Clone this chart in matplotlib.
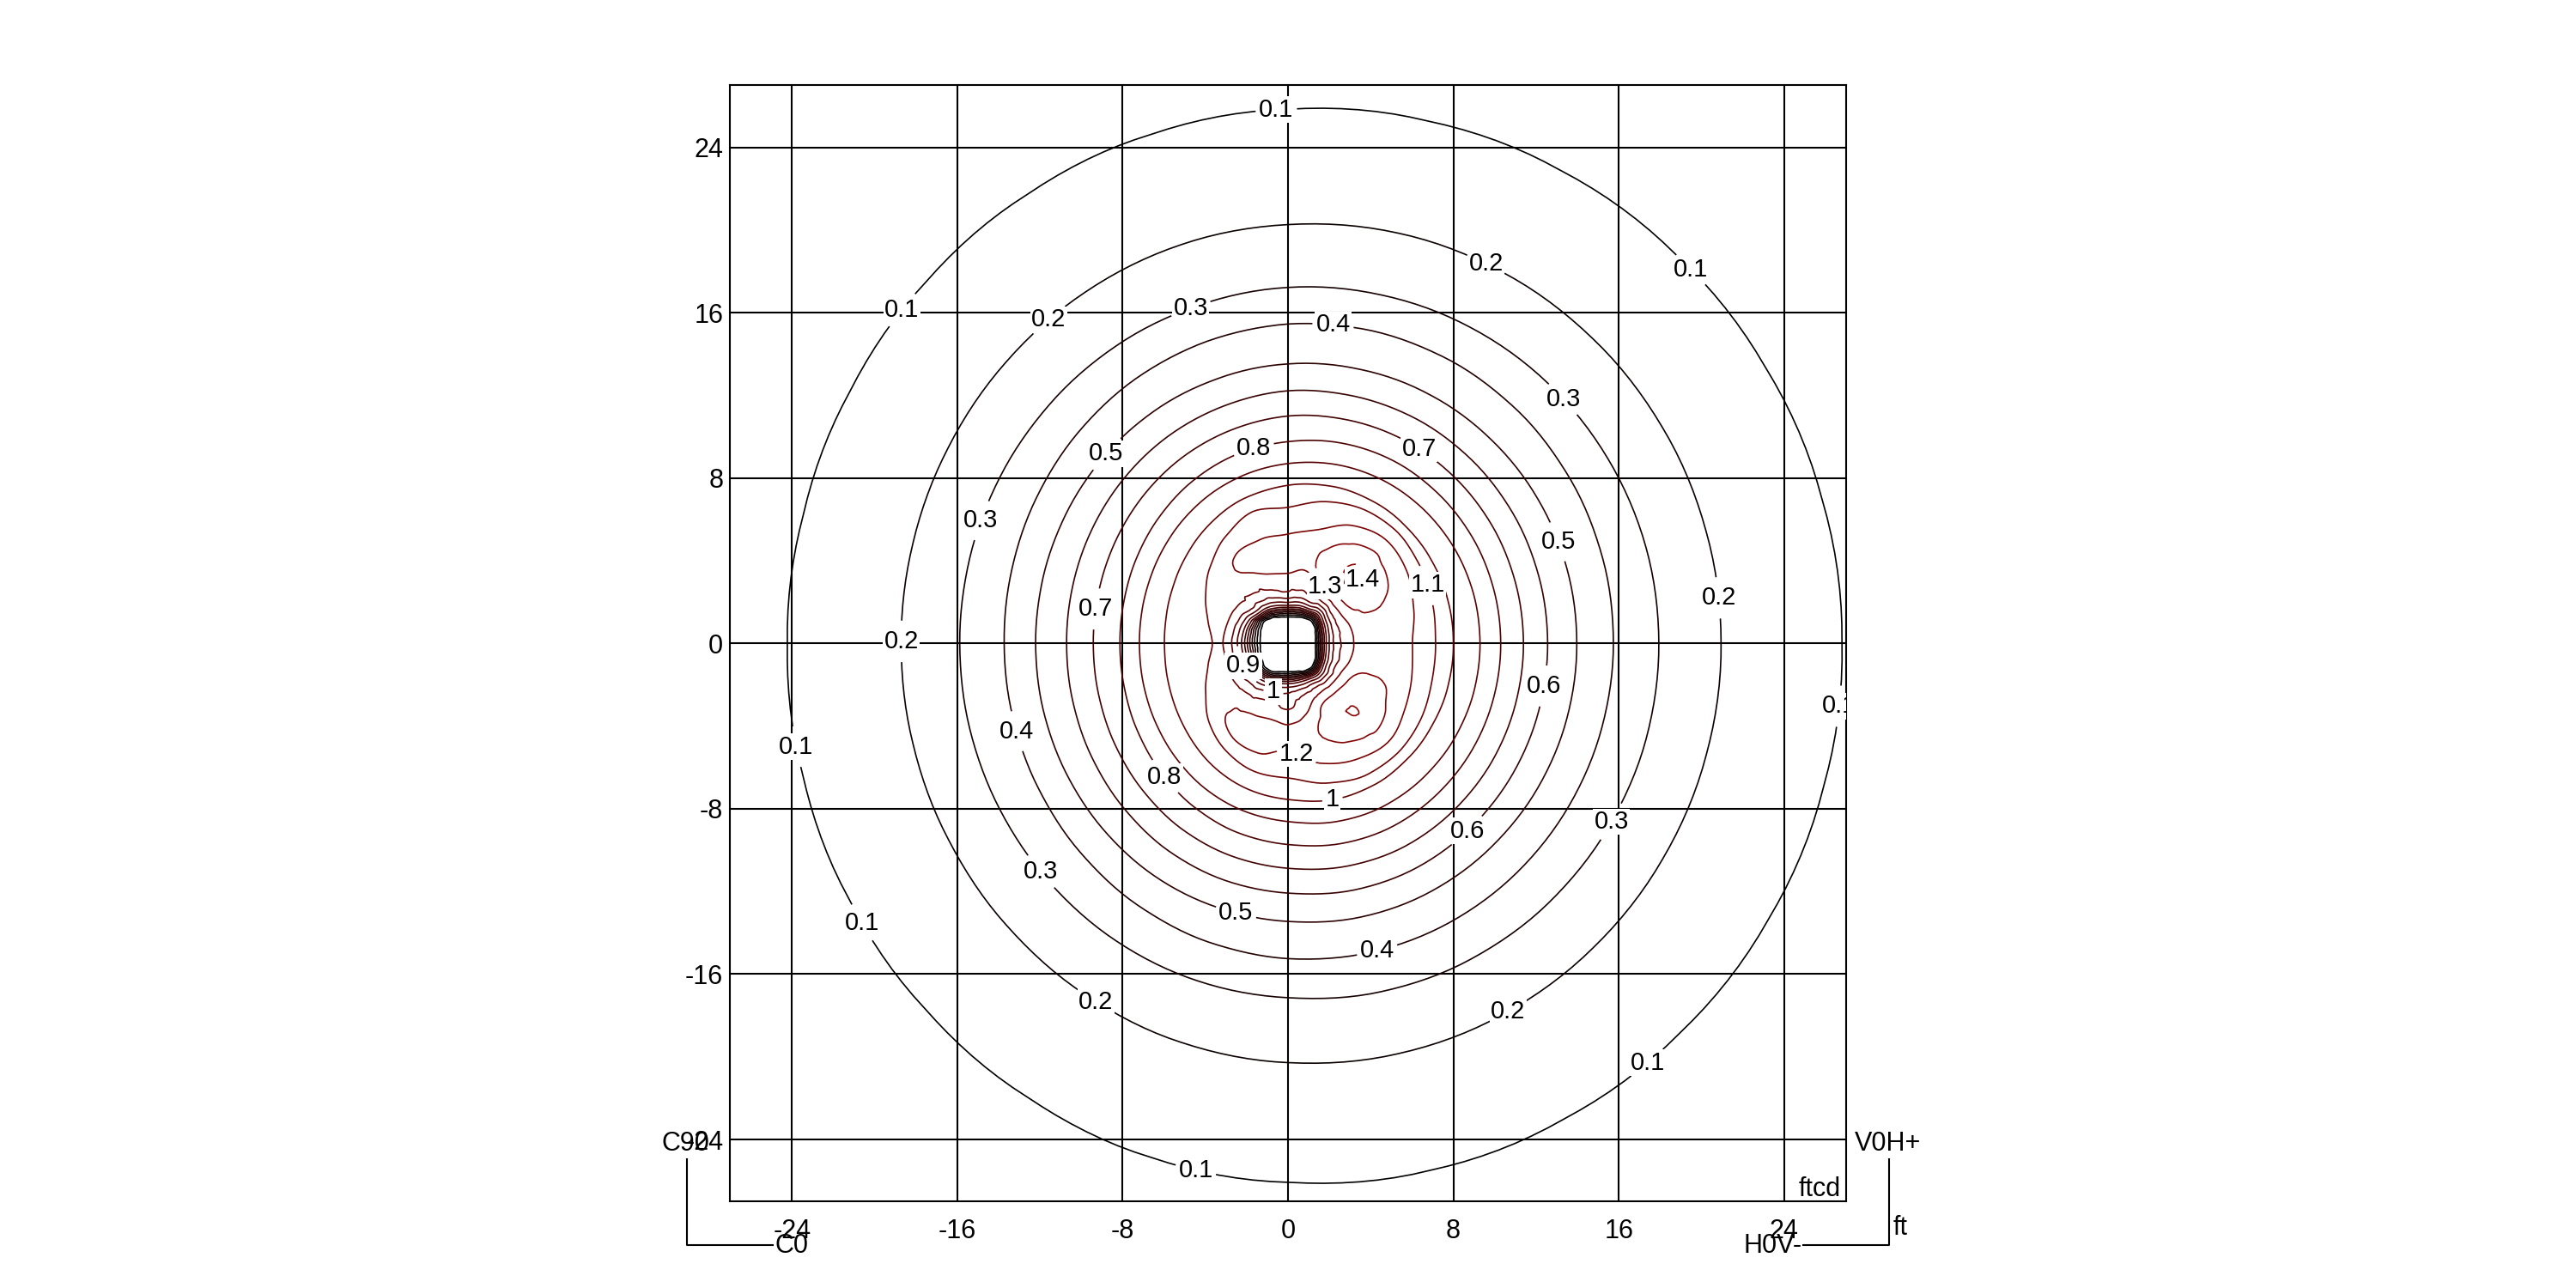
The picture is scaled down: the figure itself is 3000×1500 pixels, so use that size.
import numpy as np
import matplotlib
matplotlib.use("Agg")
import matplotlib.pyplot as plt
import matplotlib.tri as mtri
from matplotlib.lines import Line2D

plt.rcParams['font.family'] = ['Liberation Sans', 'DejaVu Sans']
plt.rcParams['axes.unicode_minus'] = False

# ---------------- data ----------------
# isolux plot in footcandles; values given along 24 directions around the pole
azimuth_deg = [0, 15, 30, 45, 60, 75, 90, 105, 120, 135, 150, 165,
               180, 195, 210, 225, 240, 255, 270, 285, 300, 315, 330, 345]

contour_levels = [0.1, 0.2, 0.3, 0.4, 0.5, 0.6, 0.7, 0.8, 0.9, 1.0, 1.1, 1.2, 1.3, 1.4]
tick_values = [-24, -16, -8, 0, 8, 16, 24]

# inner profile per direction: radius (ft) of dark-core edge, band, rise, peak, shoulder
inner_r = [
    [1.22, 1.85, 3.00, 4.50, 6.02],
    [1.27, 1.90, 3.00, 4.50, 6.30],
    [1.40, 2.00, 3.00, 4.70, 6.70],
    [1.45, 2.10, 3.20, 4.60, 6.90],
    [1.33, 1.95, 3.10, 4.40, 6.55],
    [1.20, 1.90, 3.60, 4.60, 5.70],
    [1.16, 1.90, 3.39, 4.30, 5.29],
    [1.20, 1.90, 3.40, 4.30, 5.20],
    [1.34, 2.00, 3.50, 4.30, 5.00],
    [1.45, 2.05, 3.40, 4.10, 4.80],
    [1.33, 2.20, 3.20, 3.80, 4.30],
    [1.20, 2.25, 3.15, 3.50, 3.80],
    [1.16, 2.30, 3.20, 3.40, 3.55],
    [1.21, 2.25, 3.15, 3.50, 3.80],
    [1.34, 2.20, 3.30, 3.80, 4.30],
    [1.48, 2.20, 3.50, 4.30, 4.90],
    [1.45, 2.15, 3.60, 4.60, 5.30],
    [1.30, 2.00, 3.60, 4.80, 5.50],
    [1.26, 1.95, 3.20, 4.90, 5.20],
    [1.30, 1.95, 3.50, 4.70, 6.00],
    [1.45, 2.00, 3.10, 4.50, 6.50],
    [1.52, 2.10, 3.20, 4.80, 6.80],
    [1.42, 2.00, 3.00, 4.60, 6.50],
    [1.27, 1.90, 3.00, 4.40, 6.20],
]
# illuminance (fc) at the band, rise, peak and shoulder nodes (core edge = 0)
inner_fc = [
    [0.80, 1.17, 1.26, 1.20],
    [0.80, 1.18, 1.28, 1.20],
    [0.80, 1.22, 1.34, 1.20],
    [0.80, 1.28, 1.42, 1.20],
    [0.80, 1.25, 1.36, 1.20],
    [0.80, 1.20, 1.28, 1.20],
    [0.85, 1.20, 1.24, 1.20],
    [0.80, 1.19, 1.23, 1.20],
    [0.80, 1.16, 1.21, 1.20],
    [0.80, 1.14, 1.18, 1.16],
    [0.80, 1.12, 1.15, 1.13],
    [0.81, 1.11, 1.13, 1.12],
    [0.83, 1.11, 1.12, 1.115],
    [0.81, 1.11, 1.13, 1.12],
    [0.80, 1.12, 1.15, 1.13],
    [0.80, 1.15, 1.19, 1.17],
    [0.80, 1.17, 1.22, 1.20],
    [0.80, 1.18, 1.24, 1.20],
    [0.80, 1.10, 1.24, 1.20],
    [0.80, 1.20, 1.28, 1.20],
    [0.80, 1.25, 1.36, 1.20],
    [0.80, 1.28, 1.401, 1.20],
    [0.80, 1.22, 1.34, 1.20],
    [0.80, 1.18, 1.28, 1.20],
]
# outer isolux distances (ft) per direction for these levels
outer_fc = [1.1, 1.0, 0.9, 0.8, 0.7, 0.6, 0.5, 0.4, 0.3, 0.2, 0.1]
outer_r = [
    [7.14, 8.00, 9.29, 10.29, 11.39, 12.56, 13.97, 15.74, 17.94, 20.95, 26.80],
    [7.25, 8.01, 9.29, 10.29, 11.39, 12.56, 13.97, 15.77, 17.93, 20.94, 26.76],
    [7.40, 8.02, 9.27, 10.29, 11.40, 12.57, 13.96, 15.80, 17.87, 20.91, 26.68],
    [7.55, 8.03, 9.22, 10.26, 11.38, 12.56, 13.92, 15.82, 17.79, 20.85, 26.57],
    [7.45, 8.00, 9.13, 10.20, 11.33, 12.51, 13.85, 15.78, 17.65, 20.74, 26.41],
    [7.10, 7.88, 8.96, 10.03, 11.19, 12.38, 13.71, 15.66, 17.45, 20.55, 26.16],
    [6.58, 7.65, 8.70, 9.76, 11.00, 12.22, 13.52, 15.45, 17.22, 20.26, 25.84],
    [6.60, 7.36, 8.41, 9.48, 10.68, 11.90, 13.25, 15.13, 16.91, 19.97, 25.50],
    [6.00, 6.99, 8.08, 9.12, 10.34, 11.58, 12.97, 14.77, 16.62, 19.62, 25.12],
    [5.30, 6.60, 7.74, 8.74, 9.99, 11.25, 12.68, 14.39, 16.33, 19.27, 24.75],
    [4.60, 6.27, 7.45, 8.42, 9.69, 10.97, 12.43, 14.06, 16.09, 18.97, 24.45],
    [4.00, 6.06, 7.26, 8.20, 9.49, 10.78, 12.27, 13.83, 15.94, 18.78, 24.26],
    [3.66, 5.98, 7.19, 8.13, 9.42, 10.71, 12.21, 13.73, 15.88, 18.71, 24.22],
    [4.00, 6.06, 7.26, 8.20, 9.49, 10.78, 12.27, 13.78, 15.94, 18.78, 24.32],
    [4.60, 6.27, 7.45, 8.42, 9.69, 10.97, 12.43, 13.96, 16.09, 18.97, 24.57],
    [5.40, 6.60, 7.74, 8.74, 9.99, 11.25, 12.68, 14.25, 16.33, 19.27, 24.91],
    [6.00, 6.99, 8.08, 9.12, 10.34, 11.58, 12.97, 14.60, 16.62, 19.62, 25.31],
    [6.40, 7.32, 8.38, 9.47, 10.64, 11.86, 13.22, 14.95, 16.90, 19.98, 25.73],
    [6.51, 7.55, 8.62, 9.73, 10.88, 12.08, 13.45, 15.25, 17.14, 20.28, 26.07],
    [7.00, 7.85, 8.93, 10.02, 11.15, 12.35, 13.70, 15.47, 17.44, 20.55, 26.40],
    [7.40, 8.00, 9.13, 10.20, 11.33, 12.51, 13.85, 15.60, 17.65, 20.74, 26.60],
    [7.50, 8.03, 9.22, 10.26, 11.38, 12.56, 13.92, 15.67, 17.79, 20.85, 26.73],
    [7.40, 8.02, 9.27, 10.29, 11.40, 12.57, 13.96, 15.70, 17.87, 20.91, 26.80],
    [7.20, 8.01, 9.29, 10.29, 11.39, 12.56, 13.97, 15.72, 17.93, 20.94, 26.82],
]
far_r = 40.0
far_fc = 0.02

# ---------------- mesh from the direction table ----------------
n_dir = len(azimuth_deg)
R = np.array([inner_r[k] + outer_r[k] + [far_r] for k in range(n_dir)])
Z = np.array([[0.0] + inner_fc[k] + outer_fc + [far_fc] for k in range(n_dir)])
n_rad = R.shape[1]
ang = np.deg2rad(np.array(azimuth_deg, dtype=float))[:, None]
px = np.concatenate([[0.0], (R * np.cos(ang)).ravel()])
py = np.concatenate([[0.0], (R * np.sin(ang)).ravel()])
pz = np.concatenate([[0.0], Z.ravel()])


def node(k, j):
    return 1 + (k % n_dir) * n_rad + j


triangles = []
for k in range(n_dir):
    triangles.append([0, node(k, 0), node(k + 1, 0)])
    for j in range(n_rad - 1):
        a, b = node(k, j), node(k + 1, j)
        c, d = node(k + 1, j + 1), node(k, j + 1)
        triangles.append([a, b, c])
        triangles.append([a, c, d])
tri = mtri.Triangulation(px, py, np.array(triangles))
interp = mtri.CubicTriInterpolator(tri, pz, kind='geom')
tri_fine, z_fine = mtri.UniformTriRefiner(tri).refine_field(pz, triinterpolator=interp,
                                                           subdiv=3)

# ---------------- figure ----------------
W, H = 3000, 1500
fig = plt.figure(figsize=(30, 15), dpi=100)
ax = fig.add_axes([850 / W, 100.7 / H, 1300 / W, 1300 / H])
ax.set_xlim(-27, 27)
ax.set_ylim(-27, 27)
ax.set_xticks(tick_values)
ax.set_yticks(tick_values)
ax.set_xticklabels([str(v) for v in tick_values])
ax.set_yticklabels([str(v) for v in tick_values])
ax.tick_params(length=0, labelsize=22)
ax.tick_params(axis='x', pad=14)
ax.tick_params(axis='y', pad=5.5)
ax.grid(True, color='black', linewidth=1.5)
ax.set_axisbelow(True)
for s in ax.spines.values():
    s.set_linewidth(1.5)
    s.set_color('black')

# label anchor points (ft) for each level, in contour_levels order
label_pos = [
    [(-0.56, 25.68), (19.3, 17.9), (-18.76, 16.2), (26.3, -3.0),
     (-23.8, -5.0), (-20.6, -13.5), (17.1, -19.95), (-4.37, -25.1)],
    [(9.6, 18.4), (-11.6, 15.7), (20.8, 2.2), (-18.8, 0.1),
     (-9.2, -17.2), (10.65, -17.8)],
    [(-4.7, 16.2), (13.4, 11.9), (-14.8, 5.93), (15.6, -8.6), (-11.9, -11.0)],
    [(2.15, 15.1), (-13.3, -4.3), (4.3, -14.8)],
    [(-8.64, 9.05), (13.0, 4.9), (-2.5, -12.96)],
    [(12.4, -2.07), (8.8, -9.2)],
    [(6.4, 9.5), (-9.3, 1.67)],
    [(-1.67, 9.46), (-5.9, -6.4)],
    [(-2.6, -1.38)],
    [(2.15, -7.55), (-0.8, -1.9)],
    [(6.7, 2.8)],
    [(0.5, -5.2)],
    [(1.9, 2.86)],
    [(3.26, 3.26)],
]

frac = (np.array(contour_levels) - 0.1) / 1.3
line_colors = [(0.56 * v, 0.02 * v, 0.02 * v) for v in frac]

for lev, col, pts in zip(contour_levels, line_colors, label_pos):
    cs = ax.tricontour(tri_fine, z_fine, levels=[lev], colors=[col],
                       linewidths=1.2, zorder=2)
    if pts:
        out = ax.clabel(cs, manual=pts, inline=True, fontsize=21,
                        fmt='%g', colors='black', inline_spacing=4)
        for tx in out:
            tx.set_rotation(0)
            tx.set_bbox(dict(boxstyle='square,pad=0.05', facecolor='white',
                             edgecolor='none'))
            tx.set_zorder(5)

# ---------------- corner annotations ----------------
def ftext(x, y, s, **kw):
    fig.text(x / W, 1 - y / H, s, fontsize=22, color='black', **kw)

ftext(771, 1332, 'C90', ha='left', va='center')
ftext(902, 1451, 'C0', ha='left', va='center')
ftext(2160, 1332, 'V0H+', ha='left', va='center')
ftext(2099, 1451, 'H0V-', ha='right', va='center')
ftext(2205, 1430, 'ft', ha='left', va='center')
ax.text(0.995, 0.005, 'ftcd', transform=ax.transAxes, ha='right', va='baseline',
        fontsize=22, color='black')

for xs, ys in [([800, 800, 900], [1350, 1450, 1450]),
               ([2200, 2200, 2100], [1350, 1450, 1450])]:
    fig.add_artist(Line2D([x / W for x in xs], [1 - y / H for y in ys],
                          transform=fig.transFigure, color='black', linewidth=1.5))

fig.savefig('out.png', dpi=100, facecolor='white')
